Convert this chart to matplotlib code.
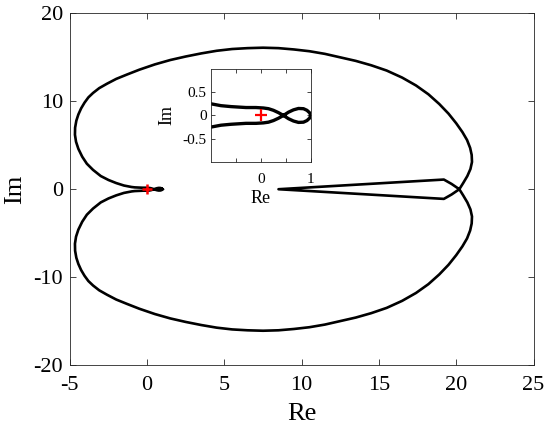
import matplotlib
matplotlib.use("Agg")
import matplotlib.pyplot as plt

plt.rcParams['font.family'] = ['Liberation Serif', 'DejaVu Serif']
plt.rcParams['axes.unicode_minus'] = False

# Half of the Nyquist curve (the other half is its mirror image about the real axis)
re_half = [1.0, 0.97, 0.92, 0.85, 0.75, 0.65, 0.55, 0.45, 0.35, 0.25, 0.15, 0.05, -0.1,
           -0.3, -0.6, -0.8, -1.0, -1.5, -2.0, -2.5, -3.0, -3.5, -3.9, -4.2, -4.45,
           -4.6, -4.67, -4.66, -4.58, -4.45, -4.27, -4.05, -3.8,
           -3.5, -3.1, -2.6, -2.0, -1.3, -0.5, 0.5, 1.5, 2.5, 3.5, 4.5, 5.5, 6.5, 7.5,
           8.5, 9.5, 10.5, 11.5, 12.5, 13.5, 14.5, 15.5, 16.5, 17.4, 18.2, 18.9, 19.5,
           20.0, 20.4, 20.7, 20.9, 21.0, 21.02, 20.92, 20.72, 20.45, 20.2, 19.7, 19.2,
           8.5]
im_half = [0.0, -0.06, -0.11, -0.145, -0.15, -0.12, -0.07, 0.0, 0.06, 0.11, 0.145, 0.16, 0.17,
           0.17, 0.19, 0.21, 0.25, 0.42, 0.7, 1.05, 1.5, 2.2, 2.9, 3.7, 4.6,
           5.4, 6.2, 7.0, 7.8, 8.5, 9.2, 9.85, 10.45,
           10.95, 11.5, 12.0, 12.55, 13.05, 13.6, 14.2, 14.7, 15.1, 15.45, 15.75, 15.95, 16.05, 16.1,
           16.05, 15.9, 15.7, 15.4, 15.0, 14.6, 14.1, 13.5, 12.7, 11.8, 10.8, 9.7, 8.6,
           7.5, 6.5, 5.6, 4.7, 3.9, 3.1, 2.3, 1.5, 0.7, 0.0, -0.6, -1.1,
           0.0]

re_full = re_half + re_half[::-1]
im_full = im_half + [-v for v in im_half[::-1]]

x_ticks = [-5, 0, 5, 10, 15, 20, 25]
y_ticks = [-20, -10, 0, 10, 20]
inset_xticks = [-0.5, 0, 0.5, 1]
inset_xticklabels = ['', '0', '', '1']
inset_yticks = [-0.5, 0, 0.5]
inset_yticklabels = ['-0.5', '0', '0.5']

fig = plt.figure(figsize=(5.5, 4.33), dpi=100)
ax = fig.add_axes([0.127, 0.157, 0.843, 0.812])
ax.plot(re_full, im_full, color='black', lw=1.9, solid_joinstyle='round')
ax.plot([0], [0], marker='+', color='red', ms=7, mew=1.8, ls='none')
ax.set_xlim(-5, 25)
ax.set_ylim(-20, 20)
ax.set_xticks(x_ticks)
ax.set_yticks(y_ticks)
ax.set_xlabel('Re', fontsize=19, labelpad=6)
ax.set_ylabel('Im', fontsize=19, labelpad=5)
ax.tick_params(direction='in', top=True, right=True, length=4, width=0.6,
               labelsize=16, colors='#262626', labelcolor='black')
ax.tick_params(axis='x', pad=8)
ax.tick_params(axis='y', pad=5)
for s in ax.spines.values():
    s.set_color('#262626')
    s.set_linewidth(0.6)

axi = fig.add_axes([0.3836, 0.626, 0.1818, 0.2148])
axi.plot(re_full, im_full, color='black', lw=2.4, solid_joinstyle='round')
axi.plot([0], [0], marker='+', color='red', ms=8, mew=1.6, ls='none')
axi.set_xlim(-1, 1)
axi.set_ylim(-1, 1)
axi.set_xticks(inset_xticks)
axi.set_xticklabels(inset_xticklabels)
axi.set_yticks(inset_yticks)
axi.set_yticklabels(inset_yticklabels)
axi.set_xlabel('Re', fontsize=13, labelpad=3)
axi.set_ylabel('Im', fontsize=13, labelpad=5)
axi.tick_params(direction='in', top=True, right=True, length=3, width=0.6,
                labelsize=11, colors='#262626', labelcolor='black')
axi.tick_params(axis='x', pad=8)
axi.tick_params(axis='y', pad=3)
for s in axi.spines.values():
    s.set_color('#262626')
    s.set_linewidth(0.6)

fig.savefig('out.png', dpi=100)
